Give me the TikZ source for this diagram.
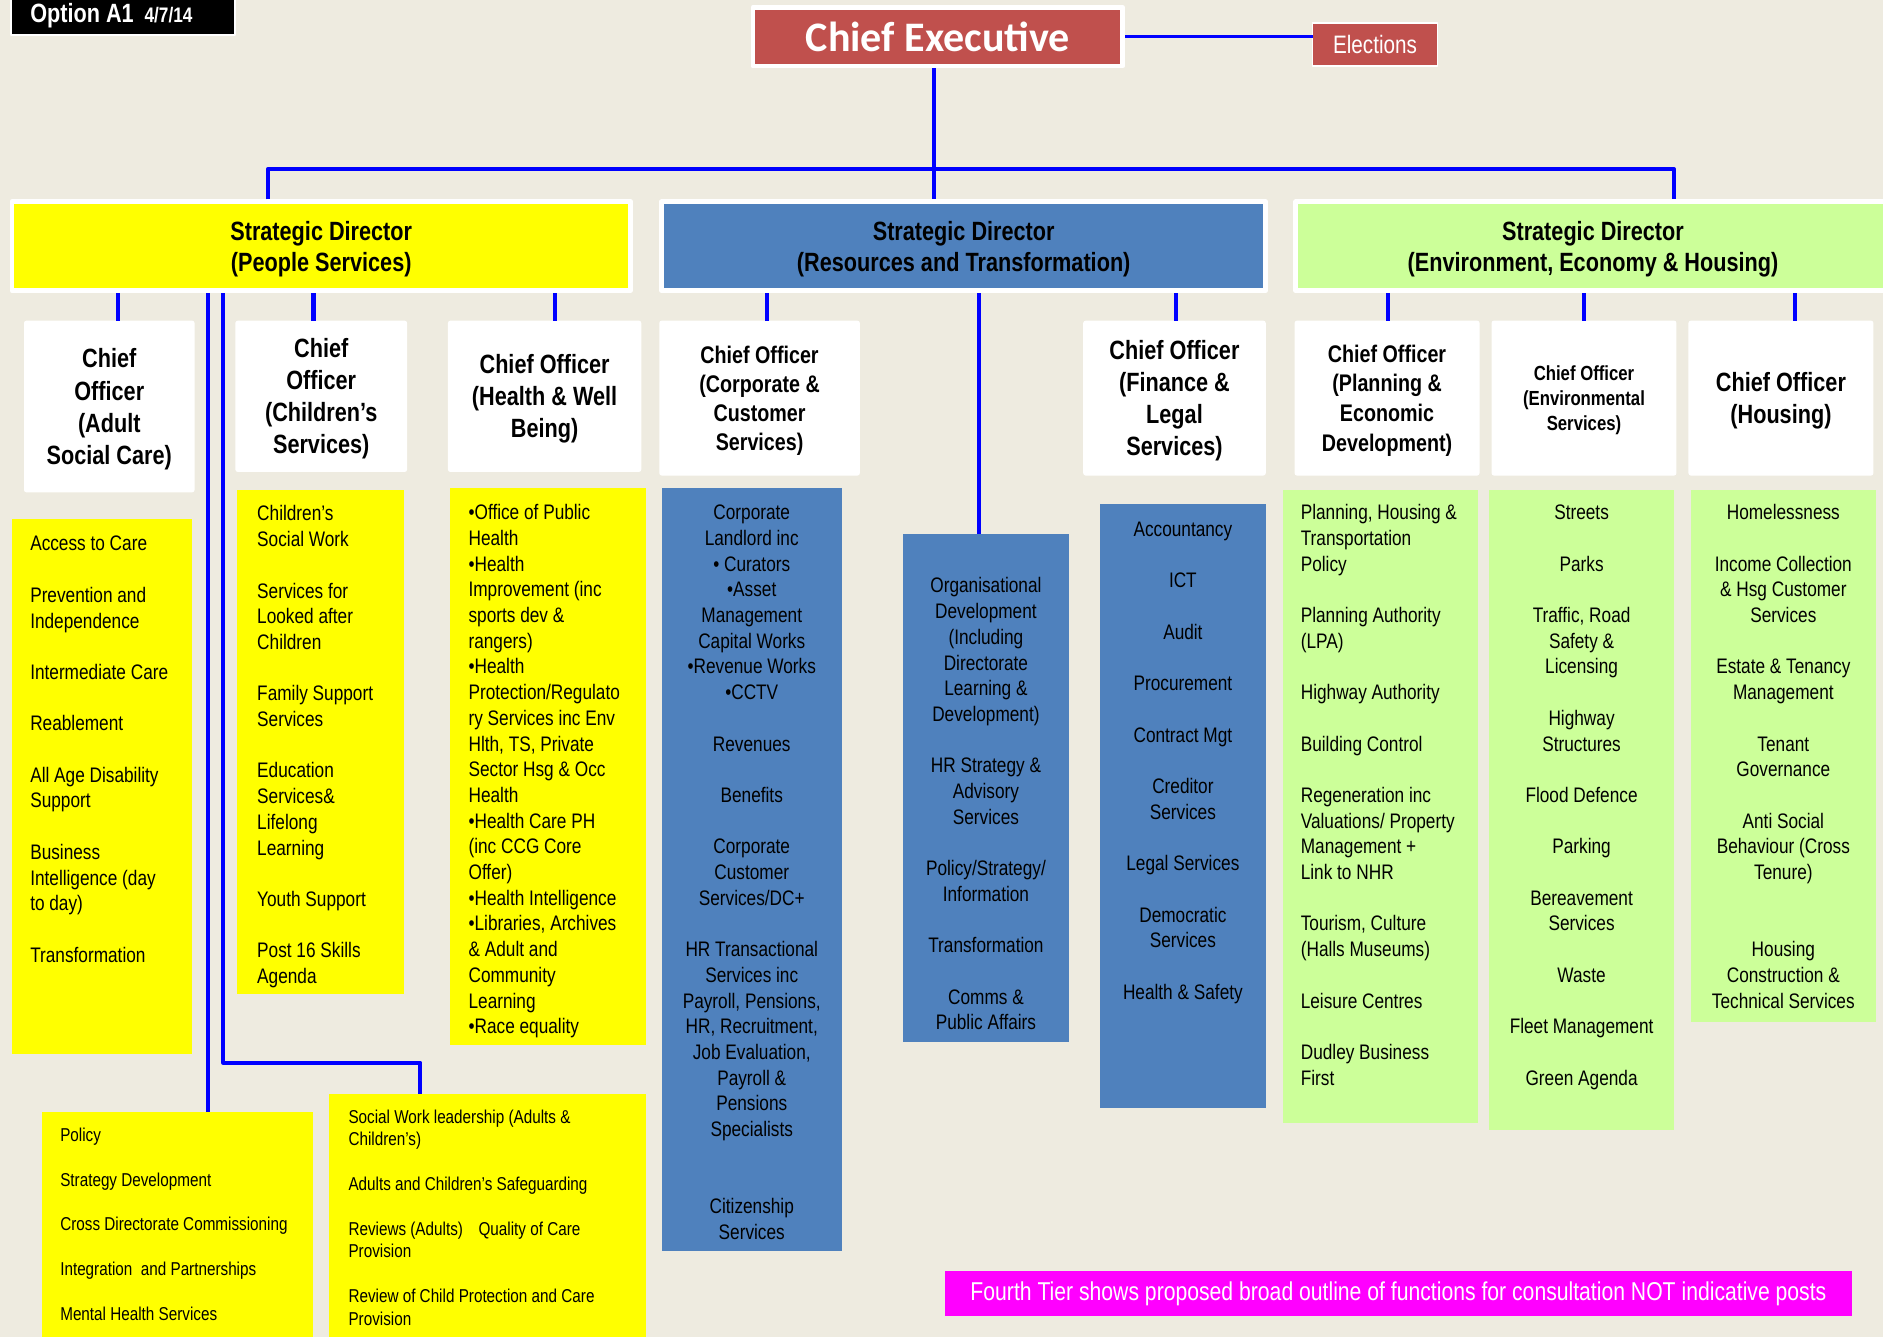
\documentclass[tikz,border=0pt]{standalone}
\usepackage{fontspec}
\setmainfont{Liberation Sans}[FakeStretch=0.82]
\newfontfamily\calibfont{Carlito}
\definecolor{pagebg}{RGB}{238,235,224}
\definecolor{cered}{RGB}{192,80,77}
\definecolor{resblue}{RGB}{79,129,189}
\definecolor{envgreen}{RGB}{204,255,153}
\definecolor{pplyellow}{RGB}{255,255,0}
\definecolor{notemag}{RGB}{255,0,255}
\definecolor{linkblue}{RGB}{0,0,255}
\begin{document}
\begin{tikzpicture}[x=1pt,y=-1pt,line join=round,
	link/.style={draw=linkblue,line width=3.5pt},
	dirbox/.style={draw=white,line width=4pt,inner sep=0pt,anchor=north west,minimum height=74pt,align=center,text depth=-1pt,font=\fontsize{22}{26}\selectfont\bfseries},
	cobox/.style={fill=white,rounded corners=2pt,inner sep=0pt,outer sep=0pt,anchor=north west,align=center,text depth=-2.5pt,font=\fontsize{22}{26.7}\selectfont\bfseries},
	fnbox/.style={inner sep=0pt,outer sep=0pt,anchor=north west},
	lefttxt/.style={inner sep=0pt,anchor=north west,align=left,font=\fontsize{17.5}{21.4}\selectfont},
	midtxt/.style={inner sep=0pt,anchor=north,align=center,font=\fontsize{17.5}{21.4}\selectfont},
	smalltxt/.style={inner sep=0pt,anchor=north west,align=left,font=\fontsize{15.5}{18.7}\selectfont}]
	\useasboundingbox (0,0) rectangle (1568,1113);
	\fill[pagebg] (0,0) rectangle (1568,1113);
	% top row
	\node[fnbox,fill=black,draw=white,line width=1.5pt,minimum width=187pt,minimum height=34pt] (opt) at (9,-5) {};
	\node[anchor=base west,inner sep=0pt,text=white,font=\fontsize{22}{26}\selectfont\bfseries] (optt) at (25,19) {Option A1\hspace{9pt}{\fontsize{17.5}{20}\selectfont 4/7/14}};
	\node[anchor=north west,draw=white,line width=4pt,inner sep=0pt,fill=cered,minimum width=308pt,minimum height=49pt,text=white,font=\calibfont\bfseries\fontsize{35}{40}\selectfont] (ce) at (625,4) {Chief Executive};
	\node[fnbox,draw=white,line width=1.5pt,fill=cered,minimum width=104pt,minimum height=36pt,text=white,font=\fontsize{21}{25}\selectfont] (el) at (1093,19) {Elections};
	% strategic directors
	\node[dirbox,fill=pplyellow,minimum width=515pt] (ppl) at (8,166) {Strategic Director\\(People Services)};
	\node[dirbox,fill=resblue,minimum width=503pt] (res) at (549,166) {Strategic Director\\(Resources and Transformation)};
	\node[dirbox,fill=envgreen,minimum width=495pt] (env) at (1077,166) {Strategic Director\\(Environment, Economy \& Housing)};
	% chief officers
	\node[cobox,minimum width=142pt,minimum height=143pt] (adlc) at (20,267) {Chief\\Officer\\(Adult\\Social Care)};
	\node[cobox,minimum width=143pt,minimum height=126pt] (chdc) at (196,267) {Chief\\Officer\\(Children’s\\Services)};
	\node[cobox,minimum width=161pt,minimum height=126pt] (hwbc) at (373,267) {Chief Officer\\(Health \& Well\\Being)};
	\node[cobox,minimum width=167pt,minimum height=129pt,font=\fontsize{20}{24}\selectfont\bfseries] (corc) at (549,267) {Chief Officer\\(Corporate \&\\Customer\\Services)};
	\node[cobox,minimum width=152pt,minimum height=129pt] (finc) at (902,267) {Chief Officer\\(Finance \&\\Legal\\Services)};
	\node[cobox,minimum width=154pt,minimum height=129pt,font=\fontsize{20}{24.7}\selectfont\bfseries] (plac) at (1078,267) {Chief Officer\\(Planning \&\\Economic\\Development)};
	\node[cobox,minimum width=154pt,minimum height=129pt,font=\fontsize{17}{21}\selectfont\bfseries] (envc) at (1242,267) {Chief Officer\\(Environmental\\Services)};
	\node[cobox,minimum width=154pt,minimum height=129pt] (houc) at (1406,267) {Chief Officer\\(Housing)};
	% fourth tier
	\node[fnbox,fill=pplyellow,minimum width=150pt,minimum height=446pt] (adl) at (10,432) {};
	\node[fnbox,fill=pplyellow,minimum width=139pt,minimum height=420pt] (chd) at (197,408) {};
	\node[fnbox,fill=pplyellow,minimum width=163pt,minimum height=464pt] (hwb) at (375,406) {};
	\node[fnbox,fill=resblue,minimum width=150pt,minimum height=636pt] (cor) at (551,406) {};
	\node[fnbox,fill=resblue,minimum width=138pt,minimum height=423pt] (od) at (752,445) {};
	\node[fnbox,fill=resblue,minimum width=138pt,minimum height=503pt] (fin) at (916,420) {};
	\node[fnbox,fill=envgreen,minimum width=163pt,minimum height=527pt] (pla) at (1068,408) {};
	\node[fnbox,fill=envgreen,minimum width=154pt,minimum height=533pt] (ens) at (1240,408) {};
	\node[fnbox,fill=envgreen,minimum width=154pt,minimum height=443pt] (hou) at (1408,408) {};
	\node[fnbox,fill=pplyellow,minimum width=226pt,minimum height=190pt] (pol) at (35,926) {};
	\node[fnbox,fill=pplyellow,minimum width=264pt,minimum height=205pt] (sw) at (274,911) {};
	\node[fnbox,fill=notemag,minimum width=755pt,minimum height=38pt,text=white,font=\fontsize{21.5}{25}\selectfont] (note) at (787,1058) {Fourth Tier shows proposed broad outline of functions for consultation NOT indicative posts};
	% texts of the lists
	\node[lefttxt] (adlt) at (25,443.6) {\strut Access to Care\\~\\Prevention and\\Independence\\~\\Intermediate Care\\~\\Reablement\\~\\All Age Disability\\Support\\~\\Business\\Intelligence (day\\to day)\\~\\Transformation};
	\node[lefttxt] (chdt) at (214,418.6) {\strut Children’s\\Social Work\\~\\Services for\\Looked after\\Children\\~\\Family Support\\Services\\~\\Education\\Services\&\\Lifelong\\Learning\\~\\Youth Support\\~\\Post 16 Skills\\Agenda};
	\node[lefttxt] (hwbt) at (390,417.6) {\strut •Office of Public\\Health\\•Health\\Improvement (inc\\sports dev \&\\rangers)\\•Health\\Protection/Regulato\\ry Services inc Env\\Hlth, TS, Private\\Sector Hsg \& Occ\\Health\\•Health Care PH\\(inc CCG Core\\Offer)\\•Health Intelligence\\•Libraries, Archives\\\& Adult and\\Community\\Learning\\•Race equality};
	\node[midtxt] (cort) at (626,417.6) {\strut Corporate\\Landlord inc\\• Curators\\•Asset\\Management\\Capital Works\\•Revenue Works\\•CCTV\\~\\Revenues\\~\\Benefits\\~\\Corporate\\Customer\\Services/DC+\\~\\HR Transactional\\Services inc\\Payroll, Pensions,\\HR, Recruitment,\\Job Evaluation,\\Payroll \&\\Pensions\\Specialists\\~\\~\\Citizenship\\Services};
	\node[midtxt] (odt) at (821,478.6) {\strut Organisational\\Development\\(Including\\Directorate\\Learning \&\\Development)\\~\\HR Strategy \&\\Advisory\\Services\\~\\Policy/Strategy/\\Information\\~\\Transformation\\~\\Comms \&\\Public Affairs};
	\node[midtxt] (fint) at (985,431.6) {\strut Accountancy\\~\\ICT\\~\\Audit\\~\\Procurement\\~\\Contract Mgt\\~\\Creditor\\Services\\~\\Legal Services\\~\\Democratic\\Services\\~\\Health \& Safety};
	\node[lefttxt] (plat) at (1083,417.6) {\strut Planning, Housing \&\\Transportation\\Policy\\~\\Planning Authority\\(LPA)\\~\\Highway Authority\\~\\Building Control\\~\\Regeneration inc\\Valuations/ Property\\Management +\\Link to NHR\\~\\Tourism, Culture\\(Halls Museums)\\~\\Leisure Centres\\~\\Dudley Business\\First};
	\node[midtxt] (enst) at (1317,417.6) {\strut Streets\\~\\Parks\\~\\Traffic, Road\\Safety \&\\Licensing\\~\\Highway\\Structures\\~\\Flood Defence\\~\\Parking\\~\\Bereavement\\Services\\~\\Waste\\~\\Fleet Management\\~\\Green Agenda};
	\node[midtxt] (hout) at (1485,417.6) {\strut Homelessness\\~\\Income Collection\\\& Hsg Customer\\Services\\~\\Estate \& Tenancy\\Management\\~\\Tenant\\Governance\\~\\Anti Social\\Behaviour (Cross\\Tenure)\\~\\~\\Housing\\Construction \&\\Technical Services};
	\node[smalltxt] (polt) at (50,936.9) {\strut Policy\\~\\Strategy Development\\~\\Cross Directorate Commissioning\\~\\Integration\ \ and Partnerships\\~\\Mental Health Services};
	\node[smalltxt] (swt) at (290,921.9) {\strut Social Work leadership (Adults \&\\Children’s)\\~\\Adults and Children’s Safeguarding\\~\\Reviews (Adults)\hspace{13pt}Quality of Care\\Provision\\~\\Review of Child Protection and Care\\Provision};
	% connectors
	\coordinate (bl) at (223,141);
	\coordinate (br) at (1394,141);
	\coordinate (swk) at (350,885);
	\draw[linkblue,line width=2pt] (ce.east) -- (ce.east -| el.west);
	\draw[link] ([xshift=-3pt]ce.south) -- ([xshift=-3pt]ce.south |- res.north);
	\draw[link] (bl |- ppl.north) -- (bl) -- (br) -- (br |- env.north);
	\foreach \x/\n in {98/adlc,261/chdc,462/hwbc,173/pol}
		\draw[link] (\x,0 |- ppl.south) -- (\x,0 |- \n.north);
	\draw[link] (186,0 |- ppl.south) |- (swk) -- (swk |- sw.north);
	\foreach \x/\n in {639/corc,815/od,979/finc}
		\draw[link] (\x,0 |- res.south) -- (\x,0 |- \n.north);
	\foreach \x/\n in {1156/plac,1319/envc,1495/houc}
		\draw[link] (\x,0 |- env.south) -- (\x,0 |- \n.north);
\end{tikzpicture}
\end{document}
